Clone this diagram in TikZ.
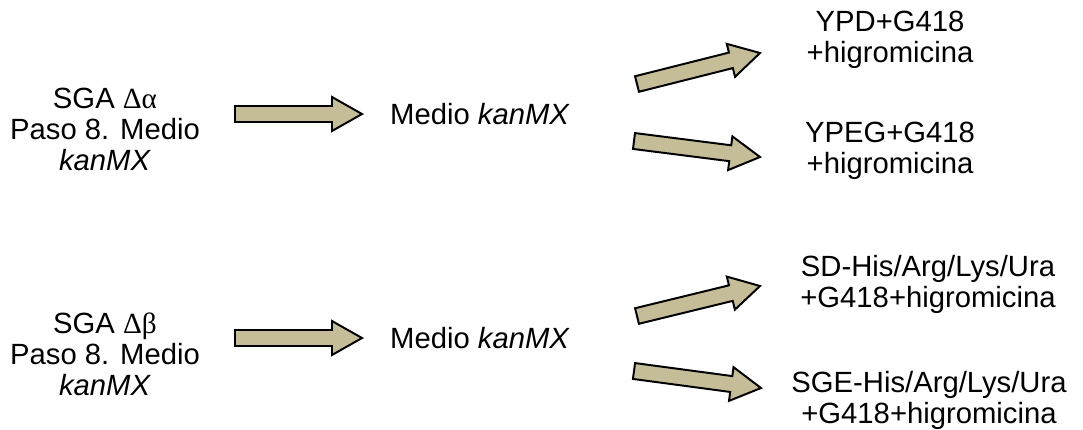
\documentclass[tikz,border=0pt]{standalone}
\usepackage{fontspec}
\setmainfont{Liberation Sans}
\newfontfamily\grk{Liberation Serif}
\usetikzlibrary{calc}

\tikzset{
  lbl/.style={align=center,inner sep=0pt,font=\fontsize{20.8}{22}\selectfont},
  blk/.style={draw=black,line width=1.4pt,fill=tanfill,line join=miter}
}
\definecolor{tanfill}{RGB}{196,189,151}

% block arrow from tail #1 to tip #2
\newcommand{\blockarr}[2]{%
  \coordinate (hb) at ($(#2)!0.75cm!(#1)$);
  \draw[blk] ($(#1)!0.2cm!90:(#2)$)
  -- ($(hb)!0.2cm!90:(#2)$)
  -- ($(hb)!0.425cm!90:(#2)$)
  -- (#2)
  -- ($(hb)!0.425cm!-90:(#2)$)
  -- ($(hb)!0.2cm!-90:(#2)$)
  -- ($(#1)!0.2cm!-90:(#2)$)
  -- cycle;}

\begin{document}
\begin{tikzpicture}[x=0.025cm,y=-0.025cm]
  \useasboundingbox (0,0) rectangle (1083,429);

  \node[lbl] (sgaa) at (105,129) {SGA {\grk Δα}\\Paso 8. Medio\\\textit{kanMX}};
  \node[lbl] (meda) at (480,114) {Medio \textit{kanMX}};
  \node[lbl] (ypd) at (890,40) {YPD+G418\\+higromicina};
  \node[lbl] (ypeg) at (890,151) {YPEG+G418\\+higromicina};

  \node[lbl] (sgab) at (105,354) {SGA {\grk Δβ}\\Paso 8. Medio\\\textit{kanMX}};
  \node[lbl] (medb) at (480,338) {Medio \textit{kanMX}};
  \node[lbl] (sd) at (928,284) {SD-His/Arg/Lys/Ura\\+G418+higromicina};
  \node[lbl] (sge) at (929,400) {SGE-His/Arg/Lys/Ura\\+G418+higromicina};

  \coordinate (a1) at (235,114);
  \coordinate (a2) at (362,114);
  \coordinate (u1) at (637,84);
  \coordinate (u2) at (760,53);
  \coordinate (d1) at (634,141);
  \coordinate (d2) at (760,157);
  \coordinate (b1) at (235,338);
  \coordinate (b2) at (362,338);
  \coordinate (v1) at (637,316);
  \coordinate (v2) at (760,286);
  \coordinate (e1) at (634,371);
  \coordinate (e2) at (761,388);

  \blockarr{a1}{a2}
  \blockarr{u1}{u2}
  \blockarr{d1}{d2}
  \blockarr{b1}{b2}
  \blockarr{v1}{v2}
  \blockarr{e1}{e2}
\end{tikzpicture}
\end{document}
